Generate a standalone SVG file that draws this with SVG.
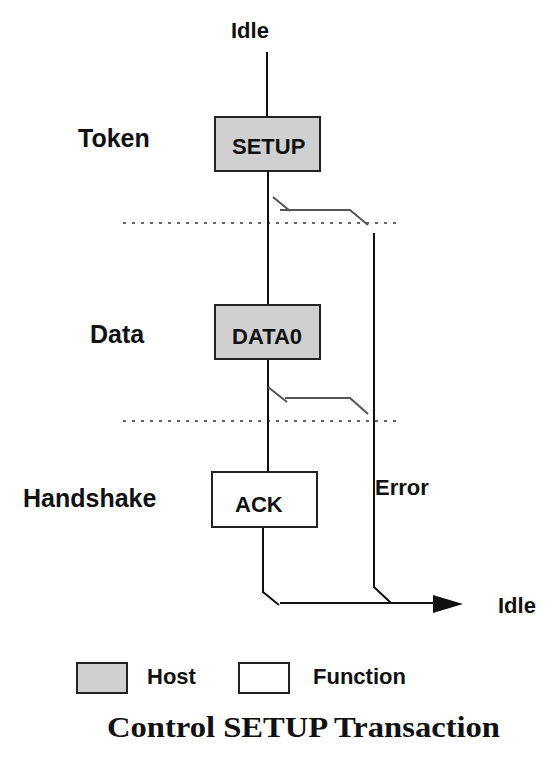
<svg xmlns="http://www.w3.org/2000/svg" width="560" height="784" viewBox="0 0 560 784">
<style>
  .lbl { font-family: "Liberation Sans", Arial, sans-serif; font-weight: bold; fill: #111; }
  .big { font-size: 25px; }
  .mid { font-size: 22px; }
  .host { fill: #d0d0d0; stroke: #222; stroke-width: 2; }
  .func { fill: #ffffff; stroke: #222; stroke-width: 2; }
  .wire { fill: none; stroke: #111; stroke-width: 2; }
  .brk { fill: none; stroke: #555; stroke-width: 2; }
  .dot { fill: none; stroke: #666; stroke-width: 2; stroke-dasharray: 3 6; }
  .title { font-family: "Liberation Serif", "Times New Roman", serif; font-weight: bold; font-size: 30px; fill: #111; }
</style>
<rect width="560" height="784" fill="#ffffff"/>

<g id="phase-labels">
  <text class="lbl big" x="78" y="147">Token</text>
  <text class="lbl big" x="90" y="343">Data</text>
  <text class="lbl big" x="23" y="507">Handshake</text>
</g>

<g id="separators">
  <line class="dot" x1="123" y1="223" x2="398" y2="223"/>
  <line class="dot" x1="123" y1="421" x2="398" y2="421"/>
</g>

<g id="connectors">
  <path class="wire" d="M267 52 V117"/>
  <path class="wire" d="M268 171 V305"/>
  <path class="wire" d="M268 359 V472"/>
  <path class="brk" d="M273 197 L290 211"/>
  <path class="brk" d="M280 210 H350 L368 225"/>
  <path class="brk" d="M268 387 L287 402"/>
  <path class="brk" d="M285 398 H350 L368 414"/>
  <path class="wire" d="M374 233 V587 L391 603"/>
  <path class="wire" d="M263 527 V592 L279 605"/>
  <path class="wire" d="M280 603 H436"/>
  <polygon points="433,595 463,604 433,613" fill="#111"/>
</g>

<g id="idle-start">
  <text class="lbl mid" x="231" y="38">Idle</text>
</g>
<g id="setup">
  <rect class="host" x="215" y="117" width="105" height="54"/>
  <text class="lbl mid" x="232" y="154">SETUP</text>
</g>
<g id="data0">
  <rect class="host" x="215" y="305" width="105" height="54"/>
  <text class="lbl mid" x="232" y="344">DATA0</text>
</g>
<g id="ack">
  <rect class="func" x="212" y="472" width="105" height="55"/>
  <text class="lbl mid" x="235" y="512">ACK</text>
</g>
<g id="error-label">
  <text class="lbl mid" x="375" y="495">Error</text>
</g>
<g id="idle-end">
  <text class="lbl mid" x="498" y="613">Idle</text>
</g>

<g id="legend">
  <rect class="host" x="77" y="663" width="50" height="30"/>
  <text class="lbl mid" x="147" y="684">Host</text>
  <rect class="func" x="239" y="663" width="50" height="30"/>
  <text class="lbl mid" x="313" y="684">Function</text>
</g>

<text class="title" x="107" y="737" textLength="393" lengthAdjust="spacingAndGlyphs">Control SETUP Transaction</text>
</svg>
